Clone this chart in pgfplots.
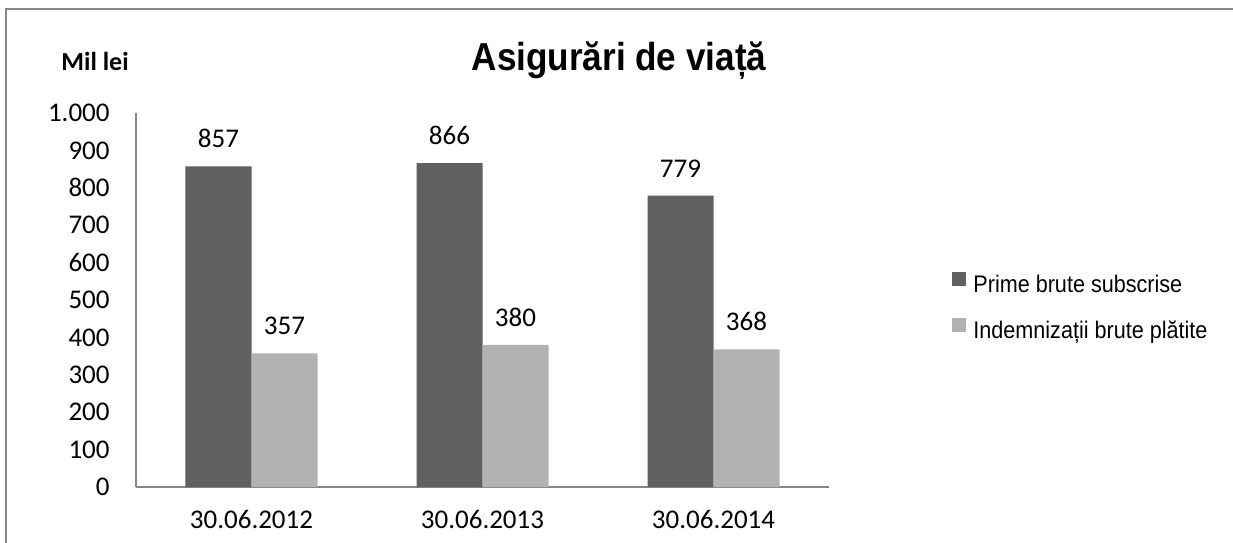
\documentclass[border=0pt]{standalone}
\usepackage{fontspec}
\setmainfont{Carlito}
\newfontfamily\arial{Liberation Sans}
\usepackage{graphicx}
\usepackage{pgfplots}
\pgfplotsset{compat=1.18}
\definecolor{axgray}{HTML}{868686}
\definecolor{darkbar}{HTML}{606060}
\definecolor{lightbar}{HTML}{B2B2B2}
\begin{document}
\begin{tikzpicture}
\useasboundingbox (0,0) rectangle (616.5pt,-271pt);
\draw[axgray, line width=1pt] (3pt,-272pt) -- (3pt,-4.5pt) -- (617pt,-4.5pt);
\node[font=\arial\bfseries\fontsize{19.5}{22}\selectfont, anchor=base, inner sep=0pt] at (309.5pt,-35pt) {\scalebox{0.9}[1]{Asigurări de viață}};
\node[font=\bfseries\fontsize{13}{15}\selectfont, anchor=base west, inner sep=0pt] at (30.5pt,-35pt) {Mil lei};
\begin{axis}[
  at={(68pt,-243.5pt)}, anchor=south west,
  scale only axis, width=346.5pt, height=187pt,
  /pgf/number format/assume math mode=true,
  ybar=0pt, bar width=33pt,
  xmin=-0.5, xmax=2.5, ymin=0, ymax=1000,
  xtick={0,1,2}, xticklabels={30.06.2012,30.06.2013,30.06.2014},
  ytick={0,100,...,1000},
  yticklabels={0,100,200,300,400,500,600,700,800,900,1.000},
  major tick length=0pt,
  axis x line*=bottom, axis y line*=left,
  axis line style={axgray, line width=0.75pt},
  tick label style={font=\fontsize{13.5}{15}\selectfont, text=black},
  yticklabel style={inner sep=0pt, anchor=east, xshift=-13pt},
  xticklabel style={inner sep=0pt, anchor=base, yshift=-20.5pt},
  nodes near coords,
  every node near coord/.append style={font=\fontsize{13.5}{15}\selectfont, text=black, anchor=base, inner sep=0pt, yshift=9.25pt},
  legend style={at={(rel axis cs:1.1775,0.575)}, anchor=north west, draw=none, fill=none, inner sep=0pt,
    font=\arial\fontsize{12}{14}\selectfont, row sep=10pt,
    nodes={inner sep=0pt, text height=9pt, text depth=3pt},
    /tikz/every odd column/.append style={column sep=3.5pt}},
  legend cell align=left,
  legend image code/.code={\fill[#1] (0pt,0pt) rectangle (7pt,7pt);},
]
\addplot[fill=darkbar, draw=none] coordinates {(0,857) (1,866) (2,779)};
\addplot[fill=lightbar, draw=none] coordinates {(0,357) (1,380) (2,368)};
\legend{\scalebox{0.9}[1]{Prime brute subscrise},\scalebox{0.9}[1]{Indemnizații brute plătite}}
\end{axis}
\end{tikzpicture}
\end{document}
